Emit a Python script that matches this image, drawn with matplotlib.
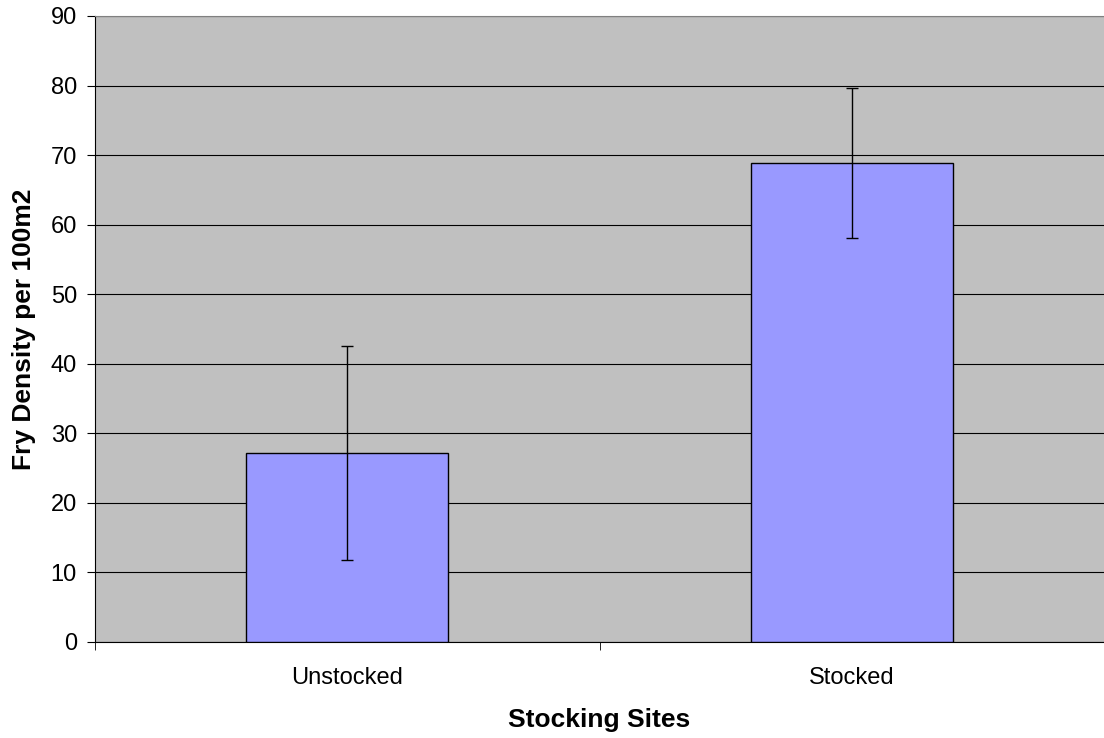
import matplotlib

matplotlib.use("Agg")

import matplotlib.pyplot as plt
from matplotlib.ticker import FixedLocator, NullFormatter

categories = ["Unstocked", "Stocked"]
density = [27.15, 68.9]
errors = [15.4, 10.8]
yticks = [0, 10, 20, 30, 40, 50, 60, 70, 80, 90]

plt.rcParams["font.family"] = ["Liberation Sans", "DejaVu Sans"]

fig = plt.figure(figsize=(11.04, 7.38), dpi=100)
ax = fig.add_axes([95 / 1104, 96 / 738, 1 - 95 / 1104, 626 / 738])
ax.set_facecolor("#c0c0c0")

x = range(len(categories))
ax.bar(x, density, width=0.4, color="#9999ff", edgecolor="black",
       linewidth=1.0, zorder=3)
ax.errorbar(x, density, yerr=errors, fmt="none", ecolor="black",
            elinewidth=1.0, capsize=4, capthick=1.0, zorder=4)

ax.set_xlim(-0.5, 1.5)
ax.set_ylim(0, 90)
ax.set_yticks(yticks)
ax.set_xticks(list(x))
ax.set_xticklabels(categories, fontsize=17)
ax.xaxis.set_minor_locator(FixedLocator([-0.5, 0.5, 1.5]))
ax.xaxis.set_minor_formatter(NullFormatter())
ax.tick_params(axis="x", which="major", length=0, pad=18)
ax.tick_params(axis="x", which="minor", length=6, color="black")
ax.tick_params(axis="y", length=6, labelsize=17, pad=7)

ax.yaxis.grid(True, color="black", linewidth=0.8, zorder=0)
ax.set_axisbelow(True)

ax.spines["right"].set_visible(False)
ax.spines["top"].set_color("#808080")
ax.spines["left"].set_color("black")
ax.spines["bottom"].set_color("black")

ax.set_xlabel("Stocking Sites", fontsize=19, fontweight="bold", labelpad=14)
ax.set_ylabel("Fry Density per 100m2", fontsize=19, fontweight="bold", labelpad=10.5)

fig.savefig("out.png", dpi=100)
